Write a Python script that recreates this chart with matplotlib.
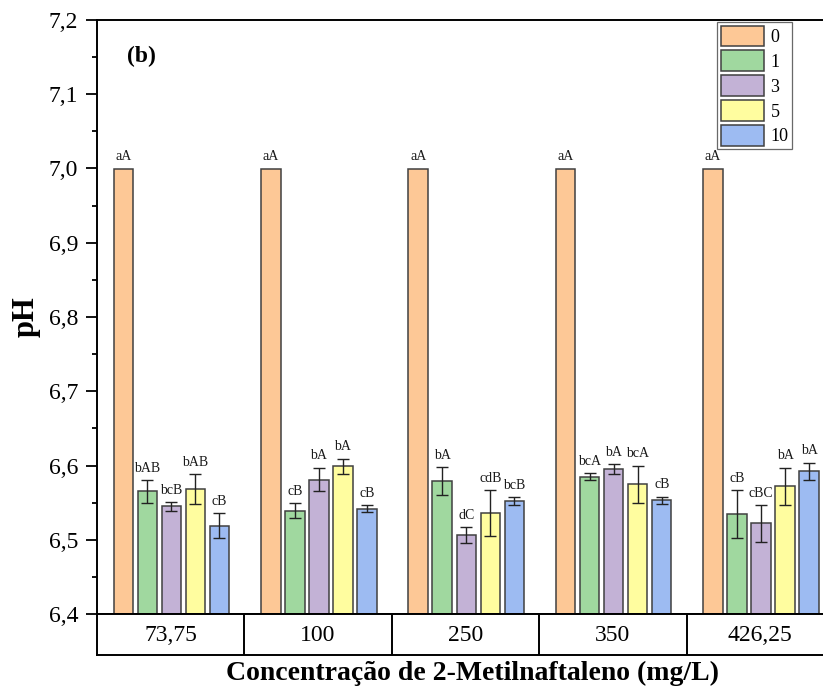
import matplotlib
matplotlib.use("Agg")
import matplotlib.pyplot as plt
from matplotlib.ticker import MultipleLocator, FuncFormatter
import numpy as np

plt.rcParams['font.family'] = ['Liberation Serif', 'DejaVu Serif']

categories = ["73,75", "100", "250", "350", "426,25"]
series_names = ["0", "1", "3", "5", "10"]
colors = ["#FDC896", "#A0D89F", "#C3B2D6", "#FFFD9F", "#9DBBF2"]

vals_0 = [7.0, 7.0, 7.0, 7.0, 7.0]
vals_1 = [6.565, 6.539, 6.579, 6.585, 6.535]
vals_3 = [6.545, 6.581, 6.506, 6.595, 6.522]
vals_5 = [6.568, 6.599, 6.536, 6.575, 6.572]
vals_10 = [6.519, 6.542, 6.552, 6.553, 6.592]

err_0 = [0, 0, 0, 0, 0]
err_1 = [0.015, 0.010, 0.019, 0.005, 0.032]
err_3 = [0.006, 0.016, 0.011, 0.007, 0.025]
err_5 = [0.020, 0.010, 0.031, 0.025, 0.025]
err_10 = [0.017, 0.005, 0.005, 0.005, 0.012]

labels_0 = ["aA", "aA", "aA", "aA", "aA"]
labels_1 = ["bAB", "cB", "bA", "bcA", "cB"]
labels_3 = ["bcB", "bA", "dC", "bA", "cBC"]
labels_5 = ["bAB", "bA", "cdB", "bcA", "bA"]
labels_10 = ["cB", "cB", "bcB", "cB", "bA"]

series_vals = [vals_0, vals_1, vals_3, vals_5, vals_10]
series_err = [err_0, err_1, err_3, err_5, err_10]
series_labels = [labels_0, labels_1, labels_3, labels_5, labels_10]

W, H = 823, 689
fig = plt.figure(figsize=(W / 100, H / 100), dpi=100)

ax_left = 97 / W
ax_w = (834 - 97) / W
ax = fig.add_axes([ax_left, 1 - 614 / H, ax_w, (614 - 20) / H])

x = np.arange(len(categories))
pitch = 0.163
bw = 0.132
for i, (v, e, lab, name, c) in enumerate(zip(series_vals, series_err, series_labels, series_names, colors)):
    pos = x + (i - 2) * pitch + 0.005
    ax.bar(pos, v, width=bw, color=c, edgecolor="#404040", linewidth=1.1, label=name, zorder=2)
    if any(ee > 0 for ee in e):
        ax.errorbar(pos, v, yerr=e, fmt='none', ecolor="#222222", elinewidth=1.0,
                    capsize=4, capthick=1.0, zorder=3)
    for px, vv, ee, t in zip(pos, v, e, lab):
        ax.annotate(t, (px, vv + ee), xytext=(0, 6), textcoords='offset points',
                    ha='center', va='baseline', fontsize=10, color="#1a1a1a")

ax.set_xlim(-0.5, 4.5)
ax.set_ylim(6.4, 7.2)
ax.yaxis.set_major_locator(MultipleLocator(0.1))
ax.yaxis.set_minor_locator(MultipleLocator(0.05))
ax.yaxis.set_major_formatter(FuncFormatter(lambda v, p: f"{v:.1f}".replace('.', ',')))
ax.tick_params(axis='y', which='major', length=8, width=1.3, pad=5.5, labelsize=17, direction='out')
ax.tick_params(axis='y', which='minor', length=3.8, width=1.3, direction='out')
ax.set_xticks([])
for s in ax.spines.values():
    s.set_linewidth(1.4)
ax.set_ylabel("pH", fontsize=22, fontweight='bold')
ax.yaxis.set_label_coords(-0.076, 0.5)

ax.text(127 / W, 1 - 62 / H, "(b)", transform=fig.transFigure, fontsize=17,
        fontweight='bold', ha='left', va='baseline')

leg = ax.legend(loc='upper right', bbox_to_anchor=(792 / W, 1 - 22 / H),
                bbox_transform=fig.transFigure, borderaxespad=0, fontsize=13,
                handlelength=2.4, handleheight=1.4, labelspacing=0.22,
                handletextpad=0.35, borderpad=0.2, fancybox=False, frameon=True)
leg.get_frame().set_edgecolor("#444444")
leg.get_frame().set_linewidth(0.9)
for p in leg.get_patches():
    p.set_linewidth(1.1)

# category box row
axb = fig.add_axes([ax_left, 1 - 655 / H, ax_w, (655 - 614) / H])
axb.set_xlim(-0.5, 4.5)
axb.set_ylim(0, 1)
axb.set_xticks([])
axb.set_yticks([])
for s in axb.spines.values():
    s.set_linewidth(1.4)
for k in range(1, len(categories)):
    axb.axvline(k - 0.5, color='black', lw=1.4)
for k, c in enumerate(categories):
    axb.text(k, 0.47, c, ha='center', va='center', fontsize=17)

fig.text(473 / W, 1 - 673 / H, "Concentração de 2-Metilnaftaleno (mg/L)",
         ha='center', va='center', fontsize=20, fontweight='bold')

fig.savefig("out.png", dpi=100)
